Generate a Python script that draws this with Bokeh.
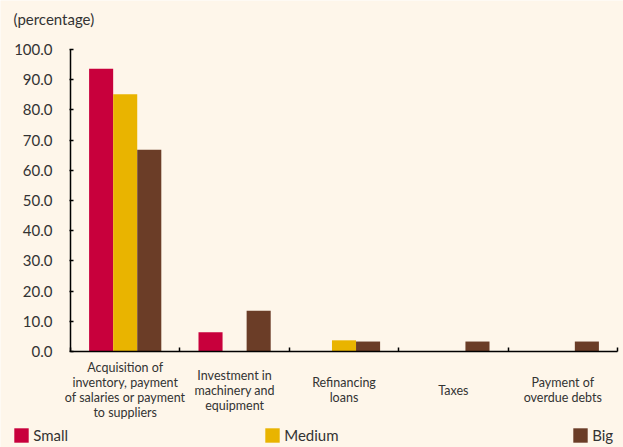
import numpy as np
from bokeh.plotting import figure
from bokeh.models import (Range1d, FixedTicker, Legend, LegendItem, NumeralTickFormatter,
                          CustomLabelingPolicy)
from bokeh.embed import file_html
from bokeh.resources import INLINE
from bokeh.core.properties import value

# ---- data ----
categories = [
    "Acquisition of\ninventory, payment\nof salaries or payment\nto suppliers",
    "Investment in\nmachinery and\nequipment",
    "Refinancing\nloans",
    "Taxes",
    "Payment of\noverdue debts",
]
small = [93.6, 6.4, 0.0, 0.0, 0.0]
medium = [85.2, 0.0, 3.7, 0.0, 0.0]
big = [66.8, 13.5, 3.3, 3.3, 3.3]
series_names = ["Small", "Medium", "Big"]
y_ticks = [0, 10, 20, 30, 40, 50, 60, 70, 80, 90, 100]
y_unit_label = "(percentage)"

# ---- style / geometry ----
BG = "#FEF6EA"
COLORS = ["#C8003C", "#E9B400", "#6B3D27"]
TXT = "#333333"
FONT = "Lato"

W, H = 623, 447
AX_L, AX_R, AX_T, AX_B = 70, 617, 49, 351   # screen px of x=0, x=n, y=100, y=0
n = len(categories)
ppx = (AX_R - AX_L) / n
ppy = (AX_B - AX_T) / 100.0


def dx(px):
    return (px - AX_L) / ppx


def dy(py):
    return (AX_B - py) / ppy


p = figure(width=W, height=H,
           x_range=Range1d(dx(0), dx(W)), y_range=Range1d(dy(H), dy(0)),
           output_backend="svg", toolbar_location=None,
           min_border=0, min_border_left=0, min_border_right=0,
           min_border_top=0, min_border_bottom=0,
           background_fill_color=BG, border_fill_color=BG, outline_line_color=None)
p.grid.visible = False

bw = 0.22
xc = np.arange(n) + 0.5
renderers = []
for k, (vals, col) in enumerate(zip([small, medium, big], COLORS)):
    r = p.vbar(x=xc + (k - 1) * bw, top=vals, width=bw, bottom=0,
               fill_color=col, line_color=None)
    renderers.append(r)

# y axis
ya = p.yaxis[0]
ya.fixed_location = 0
ya.bounds = (0, 100)
ya.ticker = FixedTicker(ticks=y_ticks)
ya.formatter = NumeralTickFormatter(format="0.0")
ya.major_tick_in = 3
ya.major_tick_out = 1
ya.minor_tick_line_color = None
ya.axis_line_width = 1.5
ya.major_tick_line_width = 1.5
ya.axis_line_color = "black"
ya.major_tick_line_color = "black"
ya.major_label_text_font = FONT
ya.major_label_text_font_size = "15px"
ya.major_label_text_color = TXT
ya.major_label_standoff = 17

# x axis (boundary ticks only, no tick labels)
xa = p.xaxis[0]
xa.fixed_location = 0
xa.bounds = (0, n)
xa.ticker = FixedTicker(ticks=list(range(n + 1)))
xa.major_tick_in = 4
xa.major_tick_out = 0
xa.minor_tick_line_color = None
xa.axis_line_width = 1.5
xa.major_tick_line_width = 1.5
xa.axis_line_color = "black"
xa.major_tick_line_color = "black"
xa.major_label_policy = CustomLabelingPolicy(code="return new Set()")

# category labels
p.text(x=xc, y=[dy(389.5)] * n, text=categories, text_align="center",
       text_baseline="middle", text_font=value(FONT),
       text_font_size="12.5px", text_color=TXT, text_line_height=1.0)

# unit label
p.text(x=[dx(13)], y=[dy(18)], text=[y_unit_label], text_align="left",
       text_baseline="middle", text_font=value(FONT),
       text_font_size="15px", text_color=TXT)

# legends
for name, r, lx in zip(series_names, renderers, [12.2, 263.2, 571.2]):
    leg = Legend(items=[LegendItem(label=name, renderers=[r])],
                 location=(lx, H - 444), orientation="horizontal",
                 padding=0, margin=0, spacing=0,
                 glyph_width=18, glyph_height=18, label_height=18,
                 label_standoff=3, label_text_font=FONT,
                 label_text_font_size="15px", label_text_color=TXT,
                 background_fill_alpha=0, border_line_alpha=0)
    p.add_layout(leg, "center")

open("out.html", "w").write(file_html(p, INLINE))
